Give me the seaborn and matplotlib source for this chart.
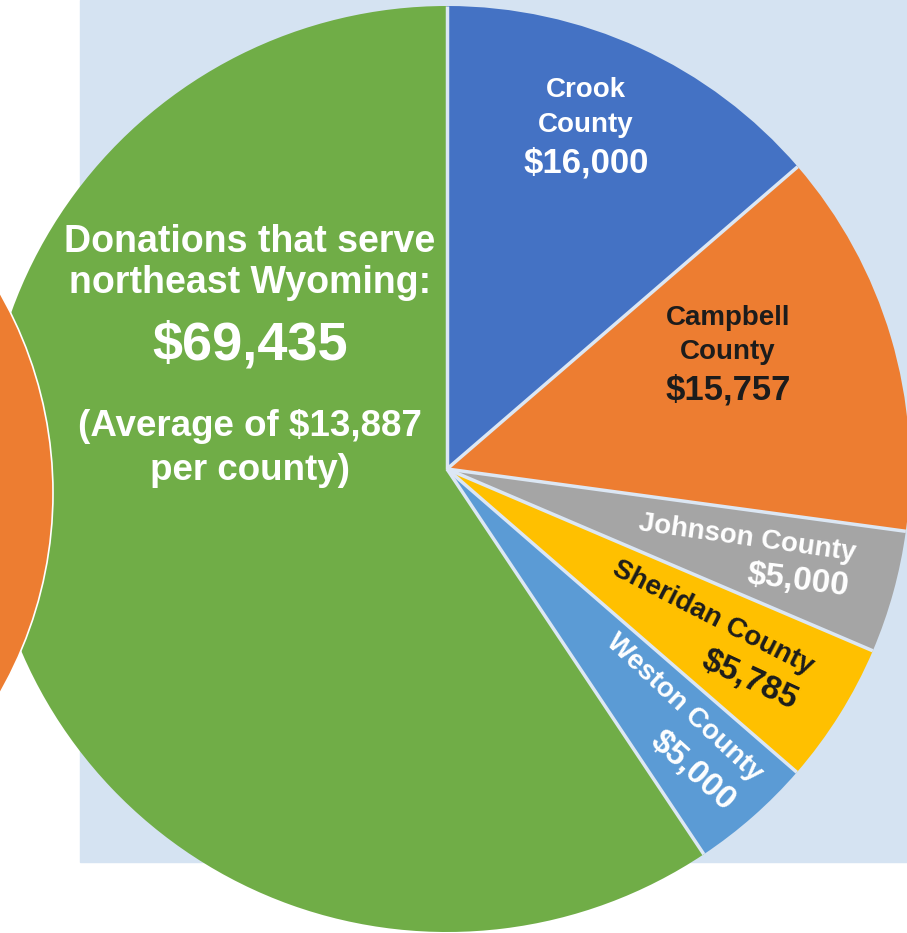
import matplotlib
matplotlib.use("Agg")
import numpy as np
import matplotlib.pyplot as plt
from matplotlib.patches import Rectangle, Circle
import seaborn as sns

# slices, clockwise from 12 o'clock
counties = ["Crook County", "Campbell County", "Johnson County",
            "Sheridan County", "Weston County", "Northeast Wyoming"]
amounts = [16000, 15757, 5000, 5785, 5000, 69435]
average_per_county = 13887

sns.set_style("white")
plt.rcParams['font.family'] = ['Liberation Sans', 'DejaVu Sans']

palette = sns.color_palette(["#4472C4", "#ED7D31", "#A5A5A5",
                             "#FFC000", "#5B9BD5", "#70AD47"])

W, H = 907, 933
fig = plt.figure(figsize=(W / 100, H / 100), dpi=100)
ax = fig.add_axes([0, 0, 1, 1])

# light blue panel behind the pie
ax.add_patch(Rectangle((80, H - 862), W - 80, 862, color="#D5E3F2", zorder=0))

cx, cy, r = 447, H - 469, 463
ax.pie(amounts, colors=palette, startangle=90, counterclock=False,
       center=(cx, cy), radius=r, wedgeprops=dict(linewidth=0))

# thin gaps between slices (no outline on the rim)
bounds = np.cumsum([0] + amounts[:-1]) / sum(amounts)
for f in bounds:
    a = np.deg2rad(90 - 360 * f)
    ax.plot([cx, cx + r * np.cos(a)], [cy, cy + r * np.sin(a)],
            color="#DCE7F4", lw=2.5, solid_capstyle="butt", zorder=3)

# edge of the neighbouring chart, cut off at the left
ax.add_patch(Circle((-351, H - 493), 404, facecolor="#ED7D31",
                    edgecolor="white", linewidth=1.2, zorder=5))

ax.set_xlim(0, W)
ax.set_ylim(0, H)
ax.set_aspect("equal")
ax.axis("off")


def put(x, y, s, size, color="white", rot=0):
    ax.text(x, H - y, s, fontsize=size, color=color, fontweight="bold",
            ha="center", va="center", rotation=rot, rotation_mode="anchor",
            zorder=10)


dark = "#1c1c1c"
money = lambda v: f"${v:,}"

# Crook
put(586, 90, "Crook", 20)
put(586, 125, "County", 20)
put(586, 163, money(amounts[0]), 25)

# Campbell
put(728, 318, "Campbell", 20, dark)
put(728, 352, "County", 20, dark)
put(728, 390, money(amounts[1]), 25, dark)

# small slices, text turned along the slice
put(747, 538, counties[2], 20, rot=-8)
put(798, 581, money(amounts[2]), 24, rot=-7)
put(713, 618, counties[3], 20, dark, rot=-27)
put(750, 680, money(amounts[3]), 24, dark, rot=-25)
put(684, 708, counties[4], 20, rot=-43)
put(693, 771, money(amounts[4]), 24, rot=-42)

# big slice
put(250, 242, "Donations that serve", 27)
put(250, 283, "northeast Wyoming:", 27)
put(250, 345, money(amounts[5]), 39)
put(250, 427, f"(Average of {money(average_per_county)}", 26.5)
put(250, 470, "per county)", 26.5)

fig.savefig("out.png", dpi=100, facecolor="white")
